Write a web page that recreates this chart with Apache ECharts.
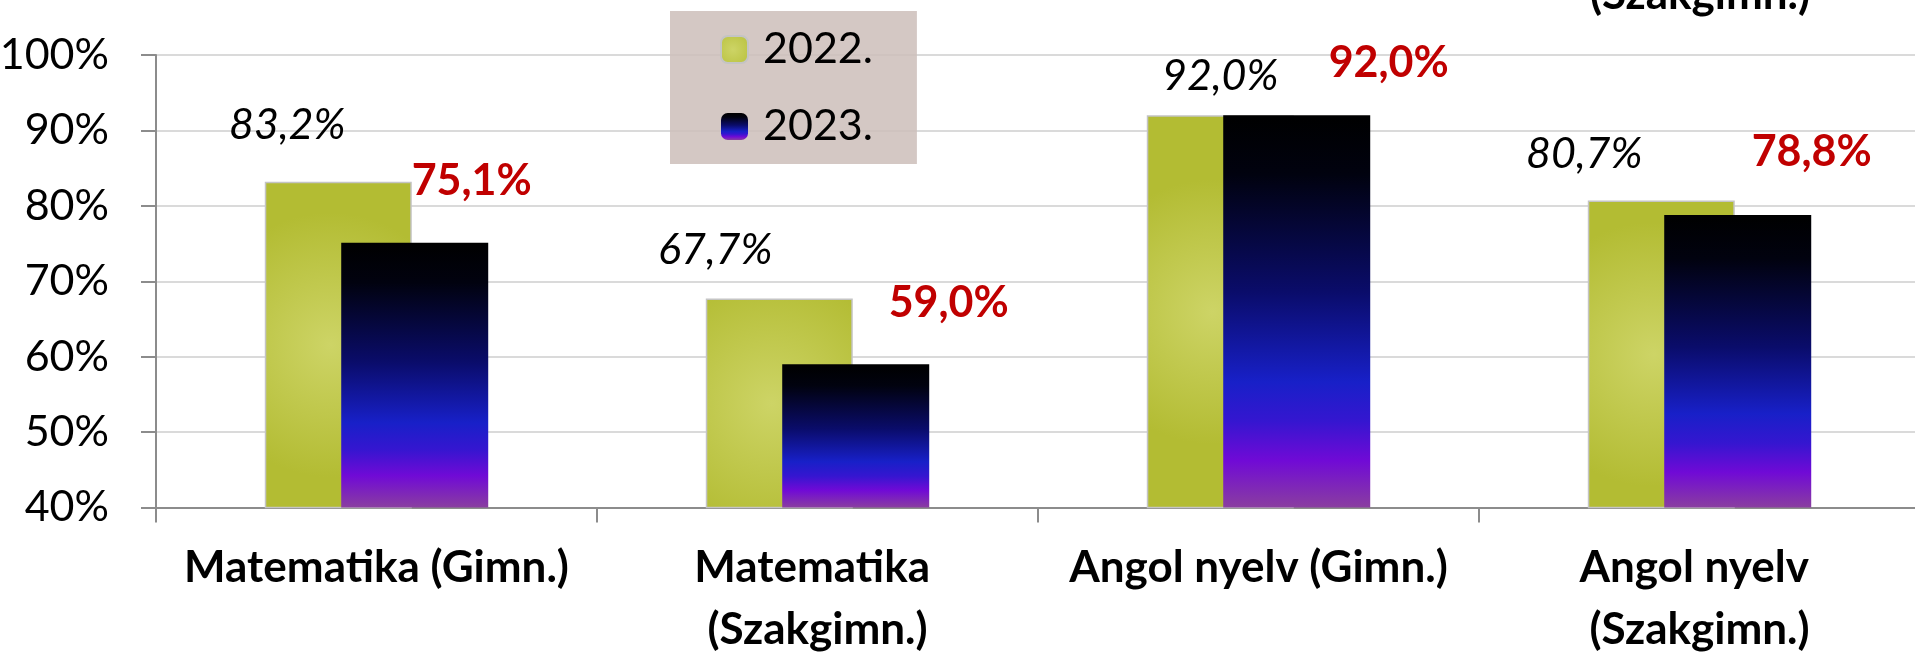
<!DOCTYPE html>
<html>
<head>
<meta charset="utf-8">
<script src="https://cdn.jsdelivr.net/npm/echarts@6/dist/echarts.min.js"></script>
<style>
html,body{margin:0;padding:0;background:#fff;overflow:hidden;}
#chart{width:1915px;height:652px;}
</style>
</head>
<body>
<div id="chart"></div>
<script>
const categories = ['Matematika (Gimn.)', 'Matematika (Szakgimn.)', 'Angol nyelv (Gimn.)', 'Angol nyelv (Szakgimn.)'];
const seriesNames = ['2022.', '2023.'];
const values2022 = [83.2, 67.7, 92.0, 80.7];
const values2023 = [75.1, 59.0, 92.0, 78.8];
const yMin = 40, yMax = 100, yStep = 10;
const clippedTopText = '(Szakgimn.)';

const FONT = 'Lato, "Open Sans", sans-serif';
const FS = 43;

// manual label placement (Excel-style moved labels)
const offs2022 = [[-51, -35], [-64, -27], [0, -18], [-77, -25]];
const offs2023 = [[57, -40], [93, -40], [92, -31], [74, -41]];

const fmt = v => v.toFixed(1).replace('.', ',') + '%';

const color2022 = {
  type: 'radial', x: 0.45, y: 0.5, r: 0.9,
  colorStops: [
    { offset: 0, color: '#cdd466' },
    { offset: 1, color: '#b3bc33' }
  ]
};
const color2023 = {
  type: 'linear', x: 0, y: 0, x2: 0, y2: 1,
  colorStops: [
    { offset: 0, color: '#000000' },
    { offset: 0.15, color: '#01020f' },
    { offset: 0.45, color: '#0a0c6a' },
    { offset: 0.68, color: '#1820c8' },
    { offset: 0.78, color: '#3516d0' },
    { offset: 0.88, color: '#700ad6' },
    { offset: 1, color: '#8a3ea0' }
  ]
};

const d2022 = values2022.map((v, i) => ({ value: v, label: { offset: offs2022[i] } }));
const d2023 = values2023.map((v, i) => ({ value: v, label: { offset: offs2023[i] } }));

const chart = echarts.init(document.getElementById('chart'), null, { renderer: 'canvas' });
chart.setOption({
  animation: false,
  backgroundColor: '#ffffff',
  textStyle: { fontFamily: FONT },
  grid: { left: 156, top: 55, bottom: 144.5, width: 1764, containLabel: false, outerBoundsMode: 'none' },
  legend: {
    orient: 'vertical',
    left: 670, top: 11,
    padding: [17, 44, 16, 50],
    backgroundColor: 'rgba(205,190,186,0.85)',
    itemWidth: 27, itemHeight: 27, itemGap: 34,
    textStyle: { fontFamily: FONT, fontSize: FS, color: '#000', padding: [0, 0, 0, 10] },
    data: seriesNames
  },
  xAxis: {
    type: 'category',
    data: categories,
    boundaryGap: true,
    axisLine: { lineStyle: { color: '#8c8c8c', width: 2 } },
    axisTick: { show: true, length: 15, lineStyle: { color: '#8c8c8c', width: 2 } },
    axisLabel: {
      fontFamily: FONT, fontSize: 44, fontWeight: 'bold', color: '#000',
      margin: 29, lineHeight: 62, width: 430, overflow: 'break', interval: 0
    },
    splitLine: { show: false }
  },
  yAxis: {
    type: 'value',
    min: yMin, max: yMax, interval: yStep,
    axisLine: { show: true, lineStyle: { color: '#8c8c8c', width: 2 } },
    axisTick: { show: true, length: 15, lineStyle: { color: '#8c8c8c', width: 2 } },
    axisLabel: { fontFamily: FONT, fontSize: FS, color: '#000', margin: 47, formatter: '{value}%' },
    splitLine: { lineStyle: { color: '#dadada', width: 2 } }
  },
  graphic: [{
    type: 'text', x: 1700, y: -5, z: 10,
    style: {
      text: clippedTopText, font: 'bold 44px ' + FONT,
      fill: '#000', align: 'center', verticalAlign: 'middle'
    }
  }],
  series: [
    {
      name: seriesNames[0], type: 'bar', data: d2022,
      barWidth: 147, barGap: '-48%',
      itemStyle: { color: color2022, borderColor: '#c4c4c4', borderWidth: 1.5 },
      label: {
        show: true, position: 'top', distance: 0,
        formatter: p => fmt(p.value),
        fontFamily: FONT, fontSize: FS, fontStyle: 'italic', color: '#000'
      }
    },
    {
      name: seriesNames[1], type: 'bar', data: d2023,
      barWidth: 147,
      itemStyle: { color: color2023 },
      label: {
        show: true, position: 'top', distance: 0,
        formatter: p => fmt(p.value),
        fontFamily: FONT, fontSize: FS, fontWeight: 'bold', color: '#c00000'
      }
    }
  ]
});
</script>
</body>
</html>
